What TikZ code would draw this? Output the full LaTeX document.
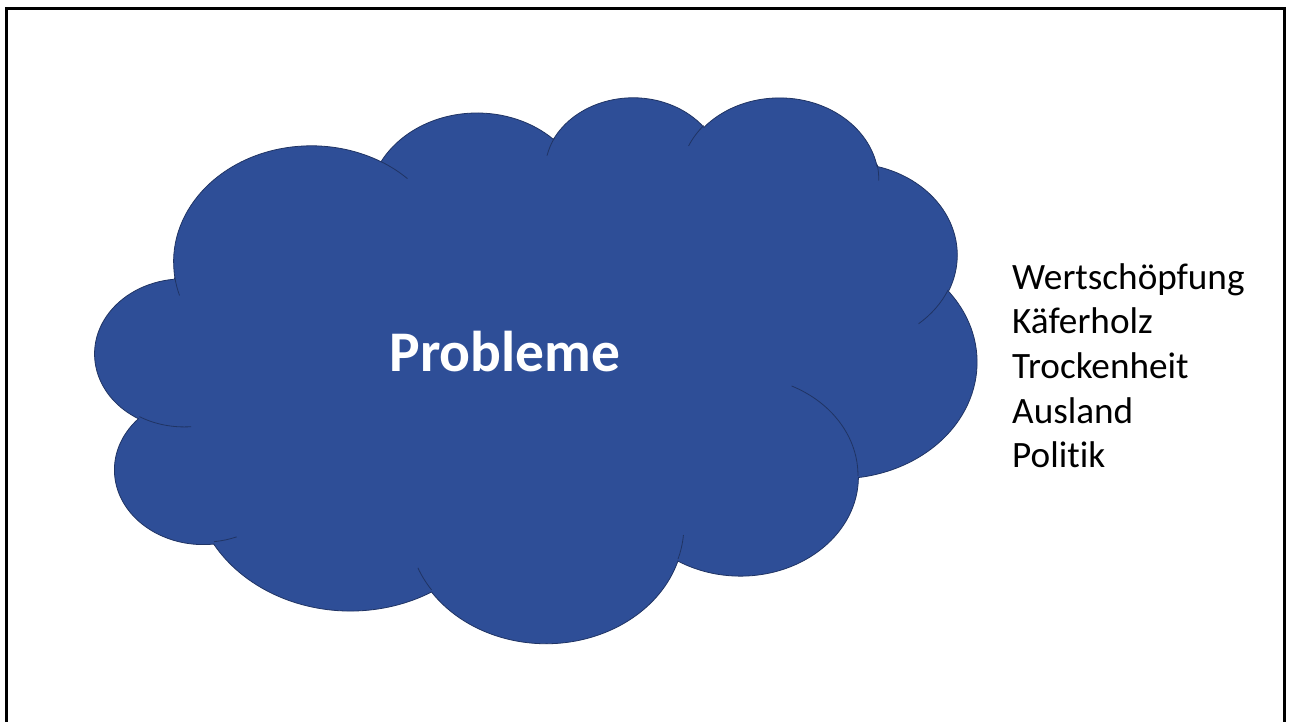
\documentclass[tikz,border=0pt]{standalone}
\usepackage{fontspec}
\setmainfont{Carlito}[Ligatures={NoCommon}, RawFeature={-liga;-dlig;-clig;-calt}]
\definecolor{cloudfill}{RGB}{46,78,151}
\definecolor{cloudedge}{RGB}{32,52,100}
% arc preparation: DrawingML arcTo (visual angles) -> parametric angles
\newcommand\cldprep[5]{%
  \pgfmathsetmacro\cldtmpS{atan2((#2)*sin(#4),(#3)*cos(#4))}%
  \pgfmathsetmacro\cldtmpE{atan2((#2)*sin(#4+#5),(#3)*cos(#4+#5))}%
  \pgfmathsetmacro\cldtmpE{\cldtmpE+360*((#5>0)*(\cldtmpE<\cldtmpS)-(#5<0)*(\cldtmpE>\cldtmpS))}%
  \expandafter\xdef\csname cldS#1\endcsname{\cldtmpS}%
  \expandafter\xdef\csname cldE#1\endcsname{\cldtmpE}%
  \expandafter\xdef\csname cldX#1\endcsname{#2}%
  \expandafter\xdef\csname cldY#1\endcsname{#3}%
}
\newcommand\cldA[1]{arc[start angle=\csname cldS#1\endcsname, end angle=\csname cldE#1\endcsname, x radius=\csname cldX#1\endcsname, y radius=\csname cldY#1\endcsname]}
\tikzset{
  cloudshape/.style={fill=cloudfill, draw=cloudedge, line width=0.8pt},
  cloudline/.style={draw=cloudedge, line width=0.8pt},
  listtext/.style={font=\fontsize{37.2}{44}\selectfont, anchor=base west, inner sep=0pt, text=black},
  titletext/.style={font=\fontsize{57.5}{68}\selectfont\bfseries, anchor=base, inner sep=0pt, text=white},
}
\begin{document}
\cldprep{a}{675.3}{919.0}{-190.48748}{123.78053}%
\cldprep{b}{533.3}{726.7}{-144.10238}{89.94523}%
\cldprep{c}{436.5}{594.5}{-145.80792}{99.72302}%
\cldprep{d}{485.7}{659.5}{-130.98607}{117.24173}%
\cldprep{e}{533.3}{727.3}{-78.70888}{109.02692}%
\cldprep{f}{677.5}{922.0}{-46.26725}{130.269}%
\cldprep{g}{578.5}{786.7}{0.62502}{114.03333}%
\cldprep{h}{675.2}{921.5}{22.4516}{115.17255}%
\cldprep{i}{772.0}{1054.3}{66.24263}{75.71102}%
\cldprep{j}{436.0}{591.8}{-274.94208}{146.73557}%
\cldprep{k}{434.5}{594.5}{-246.8285}{152.51885}%
% inner arcs
\cldprep{ia}{434.5}{594.5}{86.742}{26.4295}%
\cldprep{ib}{436.0}{591.8}{73.61047}{11.44747}%
\cldprep{ic}{675.2}{921.5}{137.62415}{14.0811}%
\cldprep{id}{675.2}{921.5}{6.45327}{15.99835}%
\cldprep{ie}{578.5}{786.7}{-70.29235}{70.91737}%
\cldprep{if}{533.3}{727.3}{30.31803}{27.7515}%
\cldprep{ig}{485.7}{659.5}{-13.74433}{14.8589}%
\cldprep{ih}{485.7}{659.5}{-149.18145}{18.19537}%
\cldprep{ii}{436.5}{594.5}{-163.49427}{17.68635}%
\cldprep{ij}{675.3}{919.0}{-66.70695}{12.31935}%
\cldprep{ik}{675.3}{919.0}{157.65435}{11.85817}%
\begin{tikzpicture}[x=1pt,y=1pt]
\useasboundingbox (0,0) rectangle (1292,721);
\fill[white] (0,0) rectangle (1292,721);
\begin{scope}
\clip (0,0) rectangle (1292,721);
\draw[line width=3.3pt] (6.5,-10) -- (6.5,712.6) -- (1284.5,712.6) -- (1284.5,-10);
\end{scope}
\begin{scope}[shift={(95.3,625)}, x=0.20403pt, y=-0.12632pt]
\path[cloudshape] (390,1437) \cldA{a} \cldA{b} \cldA{c} \cldA{d} \cldA{e} \cldA{f}
   \cldA{g} \cldA{h} \cldA{i} \cldA{j} \cldA{k} -- cycle;
\path[cloudline] (469.3,2617.7) \cldA{ia}
   (692.8,3489.9) \cldA{ib}
   (1647.8,3909.0) \cldA{ic}
   (2882.7,3475.1) \cldA{id}
   (3412.9,2295.4) \cldA{ie}
   (4179.8,1535.4) \cldA{if}
   (3832.4,542.6) \cldA{ig}
   (2907.8,395.2) \cldA{ih}
   (2214.1,472.0) \cldA{ii}
   (1400.0,519.2) \cldA{ij}
   (412.7,1578.9) \cldA{ik};
\end{scope}
\node[titletext] (probleme) at (505,349.3) {Probleme};
\node[listtext] (l1) at (1012,431.7) {Wertschöpfung};
\node[listtext] (l2) at (1012,387.1) {Käferholz};
\node[listtext] (l3) at (1012,342.5) {Trockenheit};
\node[listtext] (l4) at (1012,297.9) {Ausland};
\node[listtext] (l5) at (1012,253.3) {Poli\kern0pt tik};
\end{tikzpicture}
\end{document}
